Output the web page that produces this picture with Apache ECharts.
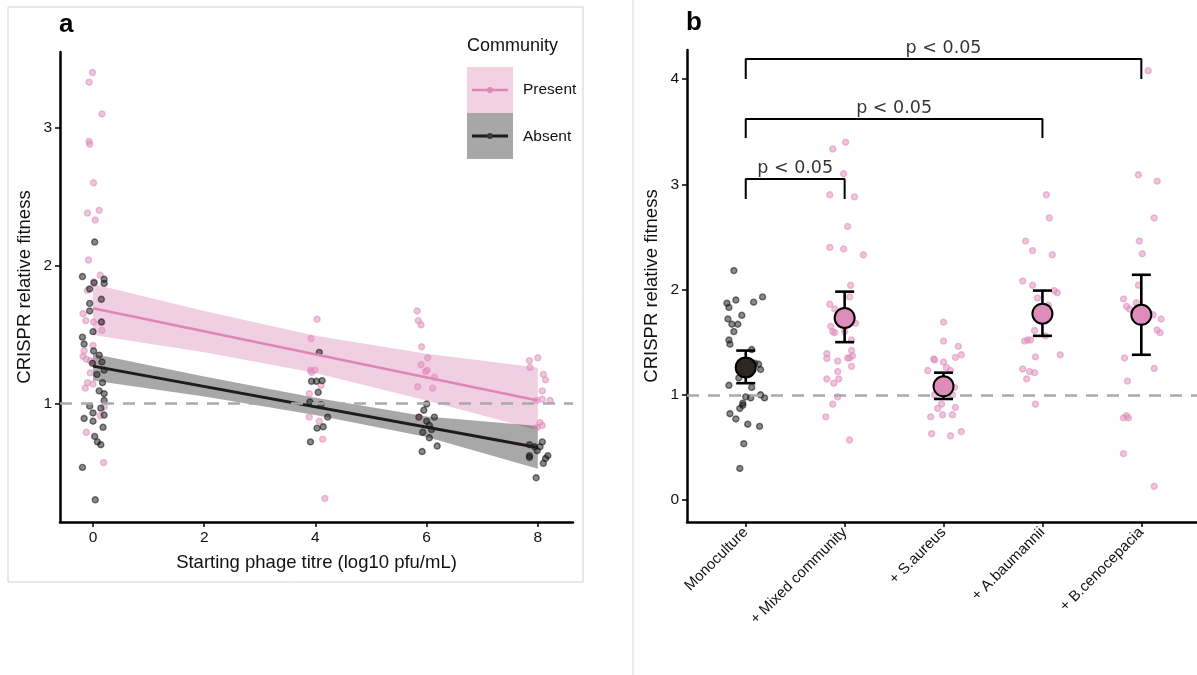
<!DOCTYPE html>
<html>
<head>
<meta charset="utf-8">
<script src="https://cdn.jsdelivr.net/npm/echarts@6/dist/echarts.min.js"></script>
<style>
  html, body { margin: 0; padding: 0; background: #fff; }
  #chart { width: 1197px; height: 675px; }
</style>
</head>
<body>
<div id="chart"></div>
<script>
// ---- panel a : fitness vs starting phage titre ----
var titreTicks = [0, 2, 4, 6, 8];
var fitnessTicksA = [1, 2, 3];

// jittered observations [titre, fitness]
var presentPts = [
  [-0.01,3.40],[-0.07,3.33],[0.16,3.10],[-0.07,2.90],[-0.06,2.88],[0.01,2.60],[-0.10,2.38],[0.11,2.40],
  [0.04,2.33],[-0.08,2.04],[0.13,1.93],[0.01,1.88],[-0.10,1.82],[-0.18,1.65],[-0.13,1.60],[0.01,1.59],
  [0.16,1.59],[0.16,1.53],[0.00,1.42],[-0.16,1.38],[-0.18,1.34],[-0.12,1.32],[-0.05,1.31],[0.01,1.30],
  [-0.05,1.22],[-0.10,1.15],[0.00,1.14],[-0.14,1.11],[0.20,0.975],[0.13,0.91],[-0.12,0.79],[0.19,0.57],
  [4.03,1.61],[3.92,1.47],[3.91,1.24],[3.99,1.24],[3.93,1.225],[4.10,1.13],[3.89,1.07],[3.89,0.90],
  [4.07,0.87],[4.13,0.74],[4.17,0.31],
  [5.83,1.67],[5.85,1.60],[5.90,1.57],[5.91,1.41],[6.02,1.33],[5.90,1.28],[6.01,1.24],[5.98,1.23],
  [6.14,1.19],[5.84,1.12],[6.11,1.11],[5.87,0.90],
  [7.85,1.31],[8.00,1.33],[7.86,1.26],[8.10,1.21],[8.14,1.17],[8.08,1.09],[8.08,1.03],[8.22,1.02],
  [7.98,1.02],[8.04,0.86],[8.08,0.84],[7.99,0.825]
];
var absentPts = [
  [0.03,2.17],[-0.19,1.92],[0.20,1.90],[0.20,1.87],[0.02,1.875],[-0.06,1.83],[0.15,1.755],[-0.06,1.725],
  [-0.06,1.67],[0.15,1.59],[0.00,1.52],[-0.19,1.48],[-0.16,1.43],[0.01,1.38],[0.11,1.35],[0.16,1.30],
  [-0.01,1.29],[0.20,1.24],[0.07,1.21],[0.17,1.15],[0.11,1.09],[0.20,1.07],[0.20,1.02],[-0.06,0.98],
  [0.14,0.965],[0.20,0.915],[0.00,0.93],[-0.16,0.89],[0.00,0.87],[0.18,0.826],[0.03,0.76],[0.08,0.72],
  [0.14,0.70],[-0.19,0.535],[0.04,0.30],
  [4.07,1.37],[3.93,1.16],[4.02,1.16],[4.12,1.165],[4.05,1.08],[3.90,1.01],[4.10,0.99],[4.22,0.90],
  [4.03,0.82],[4.14,0.83],[3.91,0.72],
  [6.00,0.995],[5.95,0.95],[5.86,0.90],[6.14,0.90],[6.00,0.87],[6.05,0.84],[6.09,0.81],[5.93,0.79],
  [6.05,0.75],[6.19,0.69],[5.92,0.65],
  [7.85,0.70],[7.94,0.685],[8.04,0.685],[8.08,0.72],[7.99,0.656],[7.85,0.62],[7.85,0.607],[8.18,0.62],
  [8.14,0.60],[8.10,0.565],[7.97,0.46]
];

// fitted lines and confidence ribbons
var fitX = [0, 8];
var presentFit = [1.69, 1.02];
var absentFit = [1.27, 0.68];
var bandX = [0, 2, 4, 6, 8];
var presentLo = [1.495, 1.37, 1.22, 1.02, 0.805];
var presentHi = [1.865, 1.67, 1.49, 1.36, 1.26];
var absentLo = [1.165, 1.05, 0.915, 0.755, 0.525];
var absentHi = [1.36, 1.195, 1.04, 0.905, 0.835];

// ---- panel b : fitness by community treatment ----
var categories = ['Monoculture', '+ Mixed community', '+ S.aureus', '+ A.baumannii', '+ B.cenocepacia'];
var fitnessTicksB = [0, 1, 2, 3, 4];
var monoPts = [
  [-0.12,2.18],[-0.19,1.87],[-0.17,1.83],[-0.10,1.90],[0.08,1.88],[0.17,1.93],[-0.04,1.755],[-0.18,1.72],
  [-0.14,1.67],[-0.08,1.67],[-0.12,1.60],[-0.17,1.52],[-0.16,1.48],[0.06,1.43],[0.13,1.29],[0.15,1.24],
  [0.09,1.30],[-0.02,1.20],[-0.07,1.16],[-0.17,1.09],[0.06,1.07],[0.00,0.98],[0.05,0.97],[0.15,1.00],
  [0.19,0.97],[-0.03,0.92],[-0.03,0.90],[-0.06,0.87],[-0.16,0.82],[-0.10,0.77],[0.02,0.72],[0.14,0.70],
  [-0.02,0.535],[-0.06,0.30]
];
var mixedPts = [
  [1.01,3.40],[0.88,3.335],[0.99,3.10],[0.85,2.90],[1.10,2.88],[1.03,2.60],[0.85,2.40],[0.99,2.385],
  [1.19,2.33],[1.06,2.04],[1.05,1.93],[0.85,1.86],[0.90,1.815],[1.11,1.68],[0.86,1.65],[0.88,1.60],
  [0.90,1.59],[1.00,1.60],[1.07,1.52],[1.07,1.42],[0.82,1.39],[0.82,1.345],[1.03,1.35],[1.05,1.35],
  [1.08,1.37],[0.93,1.32],[1.07,1.27],[0.93,1.22],[0.82,1.15],[0.94,1.15],[0.89,1.11],[0.93,0.98],
  [0.88,0.91],[0.81,0.79],[1.05,0.57]
];
var saureusPts = [
  [2.00,1.69],[2.00,1.51],[2.15,1.46],[2.12,1.355],[2.18,1.38],[1.91,1.33],[2.00,1.31],[1.84,1.23],
  [2.03,1.26],[2.07,1.23],[2.11,1.07],[1.91,1.00],[2.09,1.00],[1.98,0.91],[2.12,0.88],[1.94,0.87],
  [1.87,0.79],[1.99,0.81],[2.09,0.81],[1.88,0.63],[2.07,0.61],[2.18,0.65],[1.90,1.34]
];
var abaumPts = [
  [3.04,2.90],[3.07,2.68],[2.83,2.46],[2.90,2.37],[3.10,2.33],[2.80,2.08],[2.90,2.04],[3.12,1.99],
  [3.15,1.97],[2.95,1.92],[3.06,1.85],[2.92,1.61],[3.03,1.56],[2.82,1.51],[2.85,1.52],[2.88,1.52],
  [3.18,1.38],[2.93,1.36],[2.80,1.245],[2.87,1.22],[2.92,1.21],[2.84,1.15],[2.93,0.91]
];
var bcenoPts = [
  [4.07,4.08],[3.97,3.09],[4.16,3.03],[4.13,2.68],[3.98,2.46],[4.01,2.34],[3.97,2.04],[3.82,1.91],
  [3.85,1.84],[3.88,1.815],[3.95,1.875],[4.12,1.76],[4.20,1.72],[4.16,1.615],[4.19,1.59],[3.83,1.35],
  [4.13,1.25],[3.86,1.13],[3.82,0.78],[3.85,0.80],[3.87,0.78],[3.82,0.44],[4.13,0.13]
];
var groupMean = [1.26, 1.73, 1.08, 1.77, 1.76];
var groupLow = [1.11, 1.50, 0.96, 1.56, 1.38];
var groupHigh = [1.42, 1.98, 1.21, 1.99, 2.14];

// significance brackets: [from, to], bar height, leg end
var bracketPairs = [[0, 1], [0, 3], [0, 4]];
var bracketTop = [3.05, 3.62, 4.19];
var bracketLeg = [2.86, 3.44, 4.0];
var bracketText = 'p < 0.05';
var refLine = 1;

var PINK = '#de8cba';
var PINK_LINE = '#de86b8';
var DARK = '#1f1a1b';
var FONT = 'Liberation Sans';

var myChart = echarts.init(document.getElementById('chart'));

function axisCommon() {
  return {
    splitLine: {show: false},
    axisLine: {onZero: false, lineStyle: {color: '#000', width: 2.5}},
    axisTick: {length: 5, lineStyle: {color: '#000', width: 1.5}},
    axisLabel: {color: '#111', fontSize: 15.5, fontFamily: FONT},
    nameTextStyle: {color: '#111', fontSize: 18.5, fontFamily: FONT}
  };
}

function merge(a, b) {
  for (var k in b) {
    if (a[k] && typeof a[k] === 'object' && !Array.isArray(a[k])) merge(a[k], b[k]);
    else a[k] = b[k];
  }
  return a;
}

function ribbon(lo, hi, color) {
  return {
    type: 'custom', xAxisIndex: 0, yAxisIndex: 0, silent: true, z: 1,
    data: [[bandX[0], lo[0]]],
    renderItem: function (params, api) {
      var pts = [];
      for (var i = 0; i < bandX.length; i++) pts.push(api.coord([bandX[i], hi[i]]));
      for (var j = bandX.length - 1; j >= 0; j--) pts.push(api.coord([bandX[j], lo[j]]));
      return {type: 'polygon', shape: {points: pts}, style: {fill: color}};
    }
  };
}

function dots(data, rgb, xi) {
  return {
    type: 'scatter', xAxisIndex: xi, yAxisIndex: xi, data: data, symbolSize: 6, z: 3, silent: true,
    itemStyle: {opacity: 1, color: 'rgba(' + rgb + ',0.5)', borderColor: 'rgba(' + rgb + ',0.55)', borderWidth: 1.4}
  };
}

function fitLine(ys, color, w) {
  return {
    type: 'line', xAxisIndex: 0, yAxisIndex: 0, showSymbol: false, silent: true, z: 4,
    data: fitX.map(function (x, i) { return [x, ys[i]]; }),
    lineStyle: {color: color, width: w}
  };
}

var dashed = {
  silent: true, symbol: 'none', label: {show: false},
  lineStyle: {color: '#a9a9a9', type: [12, 9], width: 2.5},
  data: [{yAxis: refLine}]
};

var series = [
  ribbon(presentLo, presentHi, 'rgba(222,140,187,0.42)'),
  ribbon(absentLo, absentHi, 'rgba(0,0,0,0.34)'),
  merge(dots(presentPts, '222,140,187', 0), {markLine: dashed}),
  dots(absentPts, '20,20,20', 0),
  fitLine(presentFit, PINK_LINE, 2.6),
  fitLine(absentFit, DARK, 3),

  merge(dots(monoPts, '20,20,20', 1), {markLine: dashed}),
  dots(mixedPts, '222,140,187', 1),
  dots(saureusPts, '222,140,187', 1),
  dots(abaumPts, '222,140,187', 1),
  dots(bcenoPts, '222,140,187', 1),
  {
    type: 'custom', xAxisIndex: 1, yAxisIndex: 1, silent: true, z: 5,
    data: categories.map(function (c, i) { return [i, groupLow[i], groupHigh[i]]; }),
    encode: {x: 0, y: [1, 2]},
    renderItem: function (params, api) {
      var lo = api.coord([api.value(0), api.value(1)]);
      var hi = api.coord([api.value(0), api.value(2)]);
      var hw = 9.5, st = {stroke: '#000', lineWidth: 2.6};
      return {type: 'group', children: [
        {type: 'line', shape: {x1: lo[0], y1: lo[1], x2: hi[0], y2: hi[1]}, style: st},
        {type: 'line', shape: {x1: hi[0] - hw, y1: hi[1], x2: hi[0] + hw, y2: hi[1]}, style: st},
        {type: 'line', shape: {x1: lo[0] - hw, y1: lo[1], x2: lo[0] + hw, y2: lo[1]}, style: st}
      ]};
    }
  },
  {
    type: 'scatter', xAxisIndex: 1, yAxisIndex: 1, symbolSize: 20, z: 6, silent: true,
    data: groupMean.map(function (m, i) {
      return {value: [i, m], itemStyle: {color: i === 0 ? '#2c2626' : PINK}};
    }),
    itemStyle: {opacity: 1, borderColor: '#000', borderWidth: 2}
  }
];

bracketPairs.forEach(function (p, k) {
  series.push({
    type: 'line', xAxisIndex: 1, yAxisIndex: 1, showSymbol: false, silent: true, z: 5,
    data: [[p[0], bracketLeg[k]], [p[0], bracketTop[k]], [p[1], bracketTop[k]], [p[1], bracketLeg[k]]],
    lineStyle: {color: '#000', width: 2}
  });
  series.push({
    type: 'scatter', xAxisIndex: 1, yAxisIndex: 1, symbolSize: 1, silent: true, z: 5,
    itemStyle: {color: 'rgba(0,0,0,0)'},
    data: [[(p[0] + p[1]) / 2, bracketTop[k]]],
    label: {
      show: true, position: 'top', distance: 1, formatter: bracketText,
      fontFamily: 'DejaVu Sans', fontSize: 17.5, color: '#000'
    }
  });
});

option = {
  animation: false,
  backgroundColor: '#fff',
  title: [
    {text: 'a', left: 59, top: 12, padding: 0, textStyle: {fontSize: 26, fontWeight: 'bold', color: '#000', fontFamily: FONT}},
    {text: 'b', left: 686, top: 10, padding: 0, textStyle: {fontSize: 26, fontWeight: 'bold', color: '#000', fontFamily: FONT}}
  ],
  grid: [
    {left: 60, top: 52, width: 513, height: 470},
    {left: 687, top: 50, width: 510, height: 472}
  ],
  xAxis: [
    merge(axisCommon(), {
      gridIndex: 0, type: 'value', min: -0.594, max: 8.633,
      axisTick: {customValues: titreTicks}, axisLabel: {customValues: titreTicks, margin: 8},
      name: 'Starting phage titre (log10 pfu/mL)', nameLocation: 'middle', nameGap: 31
    }),
    merge(axisCommon(), {
      gridIndex: 1, type: 'value', min: -0.594, max: 4.563,
      axisTick: {customValues: [0, 1, 2, 3, 4]},
      axisLabel: {
        customValues: [0, 1, 2, 3, 4], rotate: 45, margin: 8, fontSize: 15,
        formatter: function (v) { return categories[Math.round(v)]; }
      }
    })
  ],
  yAxis: [
    merge(axisCommon(), {
      gridIndex: 0, type: 'value', min: 0.139, max: 3.549,
      axisTick: {customValues: fitnessTicksA}, axisLabel: {customValues: fitnessTicksA, margin: 8},
      name: 'CRISPR relative fitness', nameLocation: 'middle', nameGap: 26
    }),
    merge(axisCommon(), {
      gridIndex: 1, type: 'value', min: -0.209, max: 4.276,
      axisTick: {customValues: fitnessTicksB}, axisLabel: {customValues: fitnessTicksB, margin: 8},
      name: 'CRISPR relative fitness', nameLocation: 'middle', nameGap: 26
    })
  ],
  graphic: [
    {type: 'rect', shape: {x: 8, y: 7, width: 575, height: 575}, style: {fill: 'none', stroke: '#d0d0d0', lineWidth: 1}, z: -1},
    {type: 'line', shape: {x1: 633, y1: 0, x2: 633, y2: 675}, style: {stroke: '#d9d9d9', lineWidth: 1}},
    {type: 'text', left: 467, top: 37, style: {text: 'Community', fontSize: 18, fontFamily: FONT, fill: '#111'}},
    {type: 'rect', shape: {x: 467, y: 67, width: 46, height: 46}, style: {fill: '#f2d1e3'}},
    {type: 'rect', shape: {x: 467, y: 113, width: 46, height: 46}, style: {fill: '#a8a7a7'}},
    {type: 'line', shape: {x1: 472, y1: 90, x2: 508, y2: 90}, style: {stroke: PINK_LINE, lineWidth: 2.6}},
    {type: 'circle', shape: {cx: 490, cy: 90, r: 3}, style: {fill: PINK_LINE}},
    {type: 'line', shape: {x1: 472, y1: 136, x2: 508, y2: 136}, style: {stroke: DARK, lineWidth: 3}},
    {type: 'circle', shape: {cx: 490, cy: 136, r: 3}, style: {fill: '#3a3a3a'}},
    {type: 'text', x: 523, y: 90, style: {text: 'Present', fontSize: 15.5, fontFamily: FONT, fill: '#111', verticalAlign: 'middle'}},
    {type: 'text', x: 523, y: 137, style: {text: 'Absent', fontSize: 15.5, fontFamily: FONT, fill: '#111', verticalAlign: 'middle'}}
  ],
  series: series
};

myChart.setOption(option);
</script>
</body>
</html>
